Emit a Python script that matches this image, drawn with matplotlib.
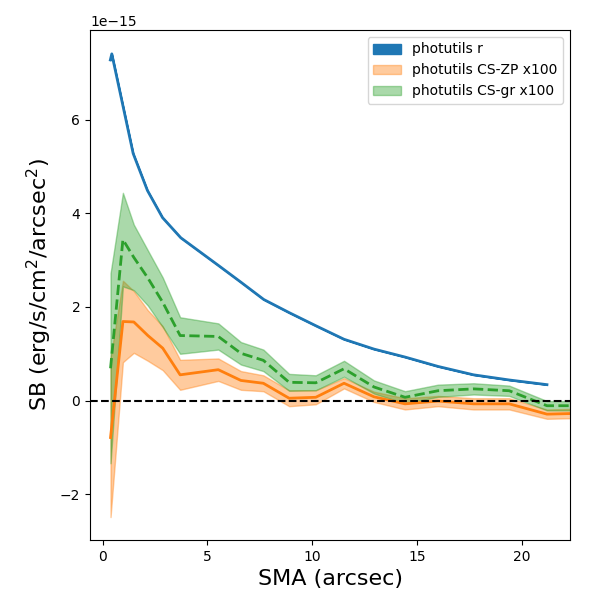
import numpy as np
import matplotlib
matplotlib.use("Agg")
import matplotlib.pyplot as plt

# SB profiles, in units of 1e-15 erg/s/cm2/arcsec2
sma_r = [0.37, 0.44, 1.46, 2.14, 2.86, 3.73, 5.52, 6.60, 7.69, 8.90, 10.17,
         11.52, 12.95, 14.43, 16.00, 17.70, 19.40, 21.20]
sb_r = [7.28, 7.41, 5.28, 4.49, 3.91, 3.48, 2.89, 2.53, 2.16, 1.88, 1.60,
        1.31, 1.10, 0.93, 0.73, 0.55, 0.44, 0.34]

sma = [0.38, 0.97, 1.49, 2.16, 2.87, 3.70, 5.52, 6.60, 7.67, 8.90, 10.17,
       11.52, 12.95, 14.43, 16.00, 17.70, 19.40, 21.20, 23.00]

sb_zp = [-0.79, 1.69, 1.68, 1.39, 1.12, 0.55, 0.66, 0.43, 0.37, 0.05, 0.07,
         0.37, 0.08, -0.07, -0.01, -0.07, -0.07, -0.29, -0.27]
err_zp = [1.70, 0.87, 0.66, 0.54, 0.47, 0.32, 0.24, 0.20, 0.17, 0.17, 0.15,
          0.11, 0.11, 0.12, 0.11, 0.12, 0.12, 0.10, 0.10]

sb_gr = [0.69, 3.44, 3.06, 2.62, 2.10, 1.39, 1.37, 1.01, 0.86, 0.39, 0.38,
         0.68, 0.29, 0.07, 0.21, 0.25, 0.21, -0.11, -0.11]
err_gr = [2.03, 1.00, 0.70, 0.59, 0.53, 0.39, 0.28, 0.24, 0.23, 0.18, 0.16,
          0.17, 0.14, 0.13, 0.13, 0.12, 0.11, 0.10, 0.10]

scale = 1e-15
sma_r = np.array(sma_r)
sb_r = np.array(sb_r) * scale
sma = np.array(sma)
sb_zp = np.array(sb_zp) * scale
err_zp = np.array(err_zp) * scale
sb_gr = np.array(sb_gr) * scale
err_gr = np.array(err_gr) * scale

fig = plt.figure(figsize=(6, 6), dpi=100)
ax = fig.add_axes([0.15, 0.10, 0.80, 0.85])

ax.fill_between(sma_r, sb_r, sb_r, color="C0", label="photutils r")
ax.plot(sma_r, sb_r, color="C0", lw=2)

ax.fill_between(sma, sb_zp - err_zp, sb_zp + err_zp, color="C1", alpha=0.4,
                label="photutils CS-ZP x100")
ax.plot(sma, sb_zp, color="C1", lw=2)

ax.fill_between(sma, sb_gr - err_gr, sb_gr + err_gr, color="C2", alpha=0.4,
                label="photutils CS-gr x100")
ax.plot(sma, sb_gr, color="C2", lw=2, ls="--")

ax.axhline(0, color="k", ls="--")

ax.set_xlim(-0.6, 22.3)
ax.set_ylim(-2.98e-15, 7.92e-15)
ax.set_xlabel("SMA (arcsec)", fontsize=16)
ax.set_ylabel(r"SB (erg/s/cm$^2$/arcsec$^2$)", fontsize=16)
ax.legend(loc="upper right")

fig.savefig("out.png")
